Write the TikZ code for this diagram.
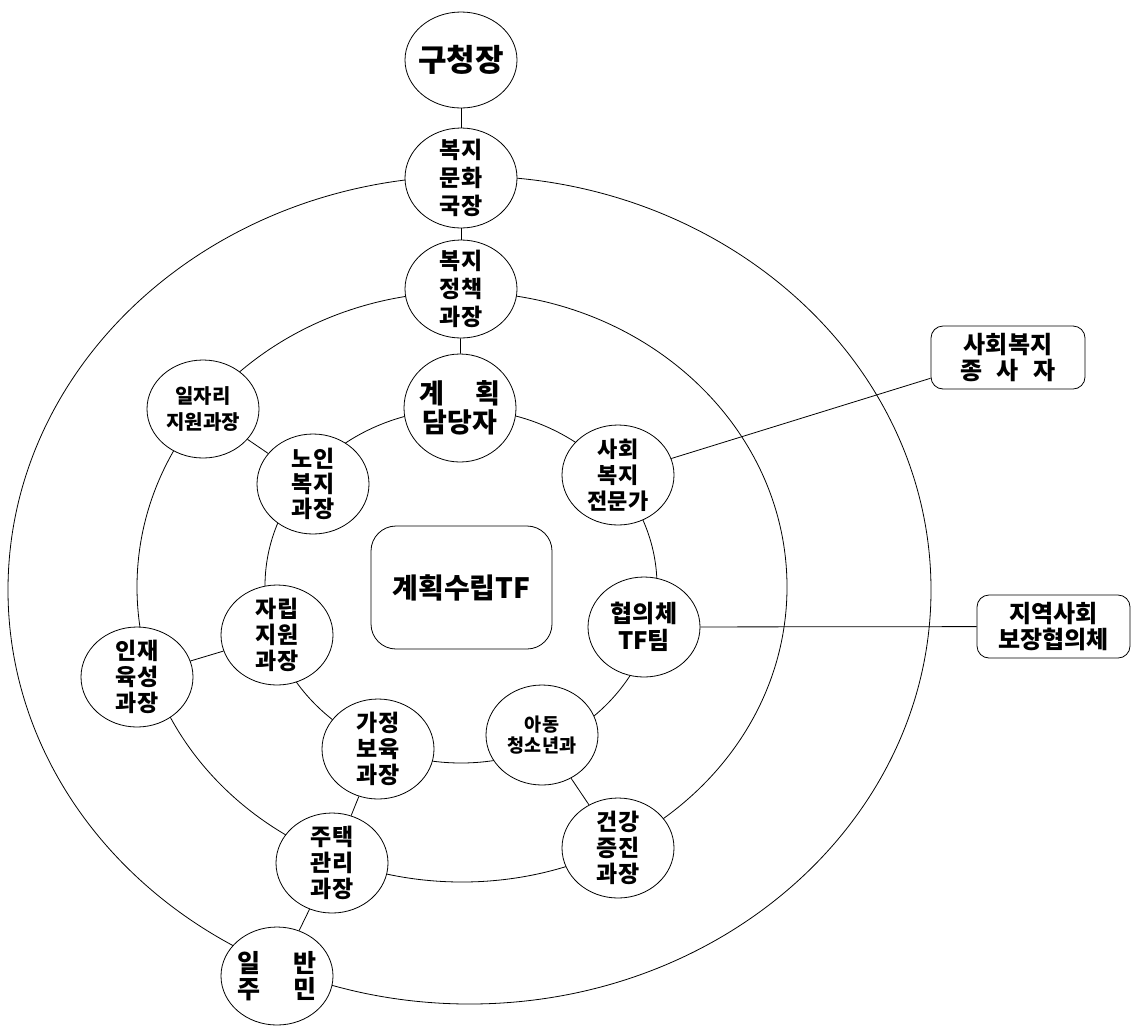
\documentclass[tikz,border=0pt]{standalone}
\usepackage{fontspec}
\setmainfont{Noto Sans CJK KR}[BoldFont={* Black}]
\usetikzlibrary{shapes.geometric}
\tikzset{
  ring/.style={line width=0.8pt},
  conn/.style={line width=0.8pt},
  circ/.style={ellipse, draw, fill=white, line width=0.8pt, minimum width=112pt, minimum height=100pt, inner sep=0pt},
  lab/.style n args={2}{align=center, inner sep=0pt, font=\bfseries\fontsize{#1}{#2}\selectfont},
  rbox/.style n args={2}{rectangle, draw, fill=white, line width=0.8pt, inner sep=0pt, align=center, font=\bfseries\fontsize{#1}{#2}\selectfont},
}
\begin{document}
\begin{tikzpicture}[x=1pt,y=-1pt]
\fill[white] (0,0) rectangle (1131,1026);
\useasboundingbox (0,0) rectangle (1131,1026);
% rings
\draw[ring] (469.5,590) ellipse [x radius=461.5pt, y radius=414pt];
\draw[ring] (462,587) ellipse [x radius=325pt, y radius=295pt];
\draw[ring] (461,586) ellipse [x radius=196pt, y radius=177pt];
% nodes
\node[circ, minimum height=96pt, label={[lab={31}{34}]center:{구청장}}] (gu) at (461,60) {};
\node[circ, label={[lab={23}{28}]center:{복지\\문화\\국장}}] (bokmun) at (461,178) {};
\node[circ, minimum height=98pt, label={[lab={23}{28}]center:{복지\\정책\\과장}}] (bokjeong) at (461,289) {};
\node[circ, minimum height=108pt, label={[lab={27}{29}]center:{\makebox[3em][s]{계\hfill 획}\\담당자}}] (gyehoek) at (460,408) {};
\node[circ, minimum height=98pt, label={[lab={20}{25}]center:{일자리\\지원과장}}] (ilja) at (203,409) {};
\node[circ, label={[lab={23}{25}]center:{노인\\복지\\과장}}] (noin) at (313,484) {};
\node[circ, label={[lab={23}{26}]center:{자립\\지원\\과장}}] (jarip) at (277,635) {};
\node[circ, label={[lab={23}{26}]center:{인재\\육성\\과장}}] (injae) at (137,677) {};
\node[circ, label={[lab={23}{26}]center:{가정\\보육\\과장}}] (gajeong) at (378,749) {};
\node[circ, label={[lab={22}{26}]center:{사회\\복지\\전문가}}] (sabok) at (618,475) {};
\node[circ, label={[lab={24}{27}]center:{협의체\\TF팀}}] (hyup) at (644,627) {};
\node[circ, label={[lab={18.5}{21}]center:{아동\\청소년과}}] (adong) at (542,735) {};
\node[circ, label={[lab={23}{26}]center:{건강\\증진\\과장}}] (geongang) at (618,848) {};
\node[circ, label={[lab={23}{26}]center:{주택\\관리\\과장}}] (jutaek) at (332,863) {};
\node[circ, minimum height=98pt, label={[lab={25}{26}]center:{\makebox[3.2em][s]{일\hfill 반}\\\makebox[3.2em][s]{주\hfill 민}}}] (ilban) at (277,976) {};
% boxes
\node[rbox={28}{30}, rounded corners=25pt, minimum width=181pt, minimum height=123pt] (tf) at (461.5,587.5) {계획수립TF};
\node[rbox={24}{26}, rounded corners=12pt, minimum width=154pt, minimum height=63pt] (jongsa) at (1008,357.5) {사회복지\\\makebox[4em][s]{종\hfill 사\hfill 자}};
\node[rbox={24}{26}, rounded corners=12pt, minimum width=153pt, minimum height=63pt] (jiyeok) at (1053.5,626.5) {지역사회\\보장협의체};
% connectors
\draw[conn] (gu) -- (bokmun);
\draw[conn] (bokmun) -- (bokjeong);
\draw[conn] (bokjeong) -- (gyehoek);
\draw[conn] (ilja) -- (noin);
\draw[conn] (injae) -- (jarip);
\draw[conn] (gajeong) -- (jutaek);
\draw[conn] (jutaek) -- (ilban);
\draw[conn] (adong) -- (geongang);
\draw[conn] (sabok) -- (jongsa.195);
\draw[conn] (hyup) -- (jiyeok);
\end{tikzpicture}
\end{document}
